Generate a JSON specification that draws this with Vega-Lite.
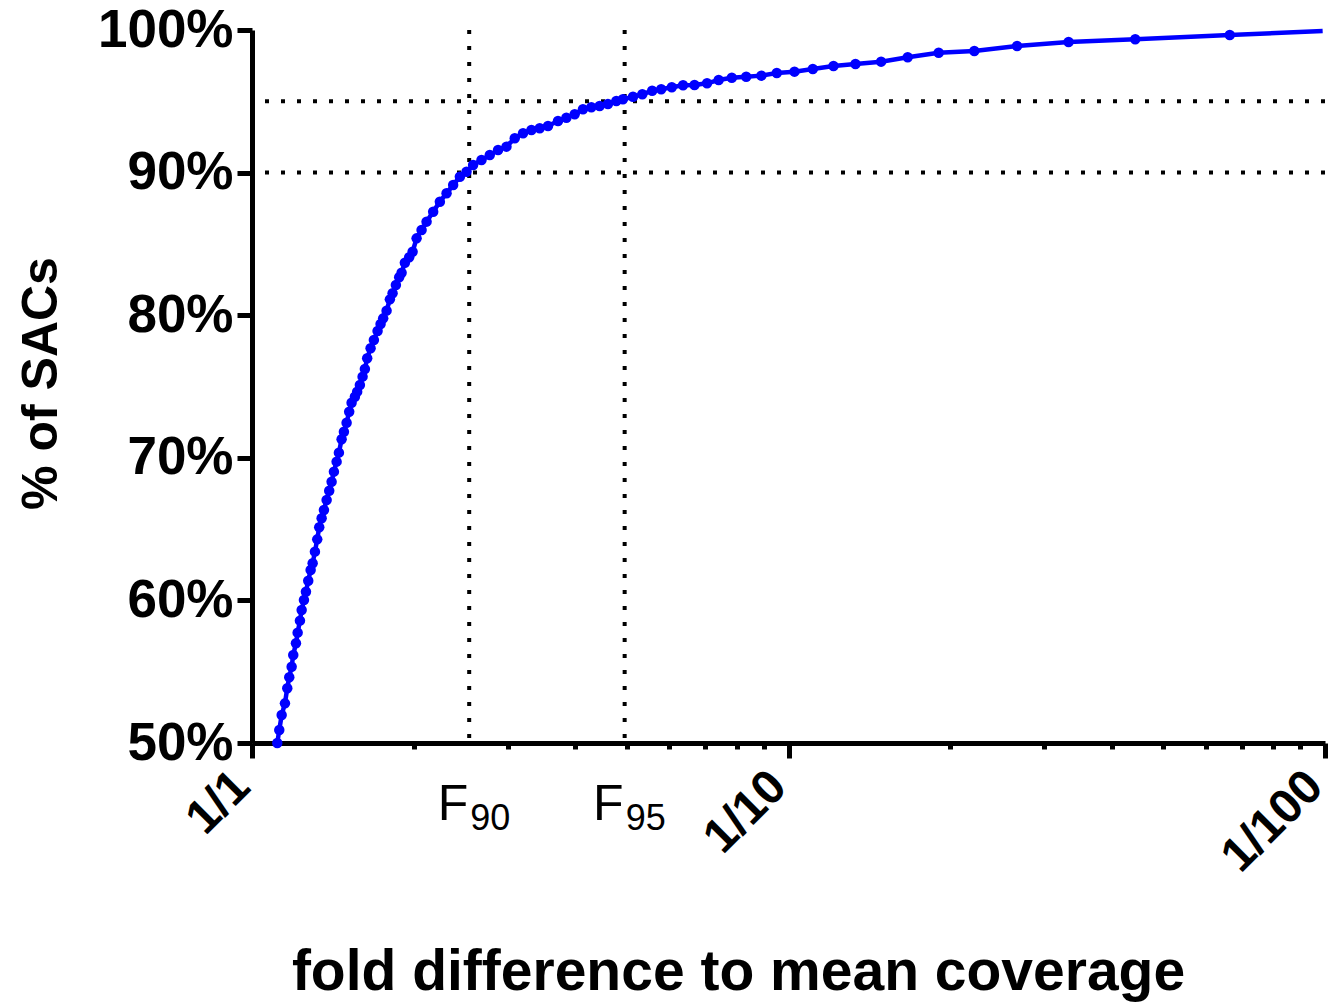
{
  "$schema": "https://vega.github.io/schema/vega-lite/v6.json",
  "width": 1073,
  "height": 713,
  "autosize": "none",
  "padding": {"left": 252, "top": 30, "right": 6, "bottom": 262},
  "background": "white",
  "config": {"view": {"stroke": null}, "font": "Liberation Sans"},
  "datasets": {
    "curve": [
      {"fold": 1.1146, "pct": 50.0}, {"fold": 1.1242, "pct": 50.91}, {"fold": 1.1358, "pct": 51.96},
      {"fold": 1.1519, "pct": 52.78}, {"fold": 1.1634, "pct": 53.84}, {"fold": 1.1734, "pct": 54.61},
      {"fold": 1.1855, "pct": 55.35}, {"fold": 1.1937, "pct": 56.17}, {"fold": 1.2076, "pct": 56.99},
      {"fold": 1.2164, "pct": 57.74}, {"fold": 1.2285, "pct": 58.58}, {"fold": 1.2375, "pct": 59.33},
      {"fold": 1.2498, "pct": 60.03}, {"fold": 1.2605, "pct": 60.61}, {"fold": 1.2730, "pct": 61.38},
      {"fold": 1.2862, "pct": 62.13}, {"fold": 1.2973, "pct": 62.60}, {"fold": 1.3101, "pct": 63.42},
      {"fold": 1.3231, "pct": 64.28}, {"fold": 1.3345, "pct": 65.13}, {"fold": 1.3483, "pct": 65.76},
      {"fold": 1.3617, "pct": 66.34}, {"fold": 1.3775, "pct": 67.04}, {"fold": 1.3929, "pct": 67.69},
      {"fold": 1.4073, "pct": 68.32}, {"fold": 1.4213, "pct": 69.03}, {"fold": 1.4378, "pct": 69.73},
      {"fold": 1.4521, "pct": 70.36}, {"fold": 1.4690, "pct": 71.30}, {"fold": 1.4836, "pct": 71.83},
      {"fold": 1.5008, "pct": 72.46}, {"fold": 1.5176, "pct": 73.23}, {"fold": 1.5333, "pct": 73.86},
      {"fold": 1.5552, "pct": 74.28}, {"fold": 1.5706, "pct": 74.64}, {"fold": 1.5889, "pct": 75.11},
      {"fold": 1.6074, "pct": 75.69}, {"fold": 1.6233, "pct": 76.23}, {"fold": 1.6394, "pct": 76.98},
      {"fold": 1.6635, "pct": 77.68}, {"fold": 1.6873, "pct": 78.26}, {"fold": 1.7143, "pct": 78.89},
      {"fold": 1.7365, "pct": 79.38}, {"fold": 1.7560, "pct": 79.78}, {"fold": 1.7818, "pct": 80.32},
      {"fold": 1.8072, "pct": 81.11}, {"fold": 1.8283, "pct": 81.54}, {"fold": 1.8544, "pct": 82.12},
      {"fold": 1.8808, "pct": 82.66}, {"fold": 1.9003, "pct": 82.98}, {"fold": 1.9274, "pct": 83.68},
      {"fold": 1.9633, "pct": 84.06}, {"fold": 1.9922, "pct": 84.45}, {"fold": 2.0266, "pct": 85.39},
      {"fold": 2.0705, "pct": 85.97}, {"fold": 2.1154, "pct": 86.56}, {"fold": 2.1762, "pct": 87.26},
      {"fold": 2.2395, "pct": 87.96}, {"fold": 2.3049, "pct": 88.55}, {"fold": 2.3711, "pct": 89.13},
      {"fold": 2.4402, "pct": 89.71}, {"fold": 2.5109, "pct": 90.06}, {"fold": 2.5830, "pct": 90.53},
      {"fold": 2.6776, "pct": 90.88}, {"fold": 2.7746, "pct": 91.23}, {"fold": 2.8751, "pct": 91.58},
      {"fold": 2.9806, "pct": 91.82}, {"fold": 3.0885, "pct": 92.41}, {"fold": 3.2004, "pct": 92.76},
      {"fold": 3.3177, "pct": 92.99}, {"fold": 3.4378, "pct": 93.11}, {"fold": 3.5623, "pct": 93.27},
      {"fold": 3.7184, "pct": 93.62}, {"fold": 3.8547, "pct": 93.85}, {"fold": 3.9943, "pct": 94.09},
      {"fold": 4.1390, "pct": 94.44}, {"fold": 4.2907, "pct": 94.58}, {"fold": 4.4460, "pct": 94.67},
      {"fold": 4.6072, "pct": 94.81}, {"fold": 4.7760, "pct": 95.02}, {"fold": 4.913, "pct": 95.14},
      {"fold": 5.13, "pct": 95.32}, {"fold": 5.34, "pct": 95.49}, {"fold": 5.57, "pct": 95.74},
      {"fold": 5.79, "pct": 95.84}, {"fold": 6.06, "pct": 95.98}, {"fold": 6.36, "pct": 96.12},
      {"fold": 6.68, "pct": 96.14}, {"fold": 7.05, "pct": 96.26}, {"fold": 7.41, "pct": 96.49},
      {"fold": 7.84, "pct": 96.65}, {"fold": 8.34, "pct": 96.72}, {"fold": 8.90, "pct": 96.80},
      {"fold": 9.51, "pct": 96.98}, {"fold": 10.26, "pct": 97.08}, {"fold": 11.10, "pct": 97.27},
      {"fold": 12.13, "pct": 97.48}, {"fold": 13.33, "pct": 97.62}, {"fold": 14.88, "pct": 97.78},
      {"fold": 16.68, "pct": 98.09}, {"fold": 19.05, "pct": 98.41}, {"fold": 22.20, "pct": 98.53},
      {"fold": 26.67, "pct": 98.88}, {"fold": 33.27, "pct": 99.16}, {"fold": 44.29, "pct": 99.35},
      {"fold": 66.45, "pct": 99.65}, {"fold": 99.0, "pct": 99.93}
    ],
    "thresholds": [
      {"pct": 90, "fold": 2.54, "F": "F", "sub": "90"},
      {"pct": 95, "fold": 4.95, "F": "F", "sub": "95"}
    ]
  },
  "layer": [
    {
      "data": {"name": "thresholds"},
      "mark": {"type": "rule", "color": "black", "strokeWidth": 4, "strokeDash": [4, 12]},
      "encoding": {
        "y": {"field": "pct", "type": "quantitative", "scale": {"domain": [50, 100], "nice": false, "zero": false}}
      }
    },
    {
      "data": {"name": "thresholds"},
      "mark": {"type": "rule", "color": "black", "strokeWidth": 4, "strokeDash": [4, 12]},
      "encoding": {
        "x": {"field": "fold", "type": "quantitative", "scale": {"type": "log", "domain": [1, 100], "nice": false}}
      }
    },
    {
      "data": {"name": "curve"},
      "mark": {"type": "line", "color": "#0000ff", "strokeWidth": 4.5},
      "encoding": {
        "x": {
          "field": "fold", "type": "quantitative",
          "scale": {"type": "log", "domain": [1, 100], "nice": false},
          "axis": {
            "values": [1, 2, 3, 4, 5, 6, 7, 8, 9, 10, 20, 30, 40, 50, 60, 70, 80, 90, 100],
            "labelExpr": "indexof([1,10,100], datum.value) >= 0 ? '1/' + datum.value : ''",
            "labelAngle": -45,
            "labelAlign": "right",
            "labelBaseline": "middle",
            "labelFontSize": 48,
            "labelFontWeight": "bold",
            "labelColor": "black",
            "labelPadding": 21,
            "labelOffset": -10,
            "labelOverlap": false,
            "labelFlush": false,
            "domainColor": "black",
            "domainWidth": 5,
            "tickColor": "black",
            "tickWidth": 5,
            "tickSize": {"condition": {"test": "indexof([1,10,100], datum.value) >= 0", "value": 15}, "value": 6},
            "grid": false,
            "title": "fold difference to mean coverage",
            "titleFontSize": 57,
            "titleFontWeight": "bold",
            "titleColor": "black",
            "titleX": 486,
            "titleY": 246,
            "titleAlign": "center",
            "titleBaseline": "alphabetic"
          }
        },
        "y": {
          "field": "pct", "type": "quantitative",
          "scale": {"domain": [50, 100], "nice": false, "zero": false},
          "axis": {
            "values": [50, 60, 70, 80, 90, 100],
            "labelExpr": "datum.value + '%'",
            "labelFontSize": 53,
            "labelFontWeight": "bold",
            "labelColor": "black",
            "labelPadding": 4,
            "labelFlush": false,
            "labelOverlap": false,
            "domainColor": "black",
            "domainWidth": 5,
            "tickColor": "black",
            "tickWidth": 5,
            "tickSize": 15,
            "grid": false,
            "title": "% of SACs",
            "titleFontSize": 50,
            "titleFontWeight": "bold",
            "titleColor": "black",
            "titleAngle": -90,
            "titleX": -196,
            "titleY": 353,
            "titleAlign": "center",
            "titleBaseline": "alphabetic"
          }
        }
      }
    },
    {
      "data": {"name": "curve"},
      "transform": [{"filter": "datum.fold < 90"}],
      "mark": {"type": "point", "filled": true, "color": "#0000ff", "size": 110, "opacity": 1},
      "encoding": {
        "x": {"field": "fold", "type": "quantitative"},
        "y": {"field": "pct", "type": "quantitative"}
      }
    },
    {
      "data": {"name": "thresholds"},
      "mark": {"type": "text", "align": "right", "baseline": "alphabetic", "dx": -1, "dy": 77, "fontSize": 50, "color": "black"},
      "encoding": {
        "x": {"field": "fold", "type": "quantitative"},
        "y": {"datum": 50},
        "text": {"field": "F"}
      }
    },
    {
      "data": {"name": "thresholds"},
      "mark": {"type": "text", "align": "left", "baseline": "alphabetic", "dx": 1, "dy": 87, "fontSize": 36, "color": "black"},
      "encoding": {
        "x": {"field": "fold", "type": "quantitative"},
        "y": {"datum": 50},
        "text": {"field": "sub"}
      }
    }
  ]
}
